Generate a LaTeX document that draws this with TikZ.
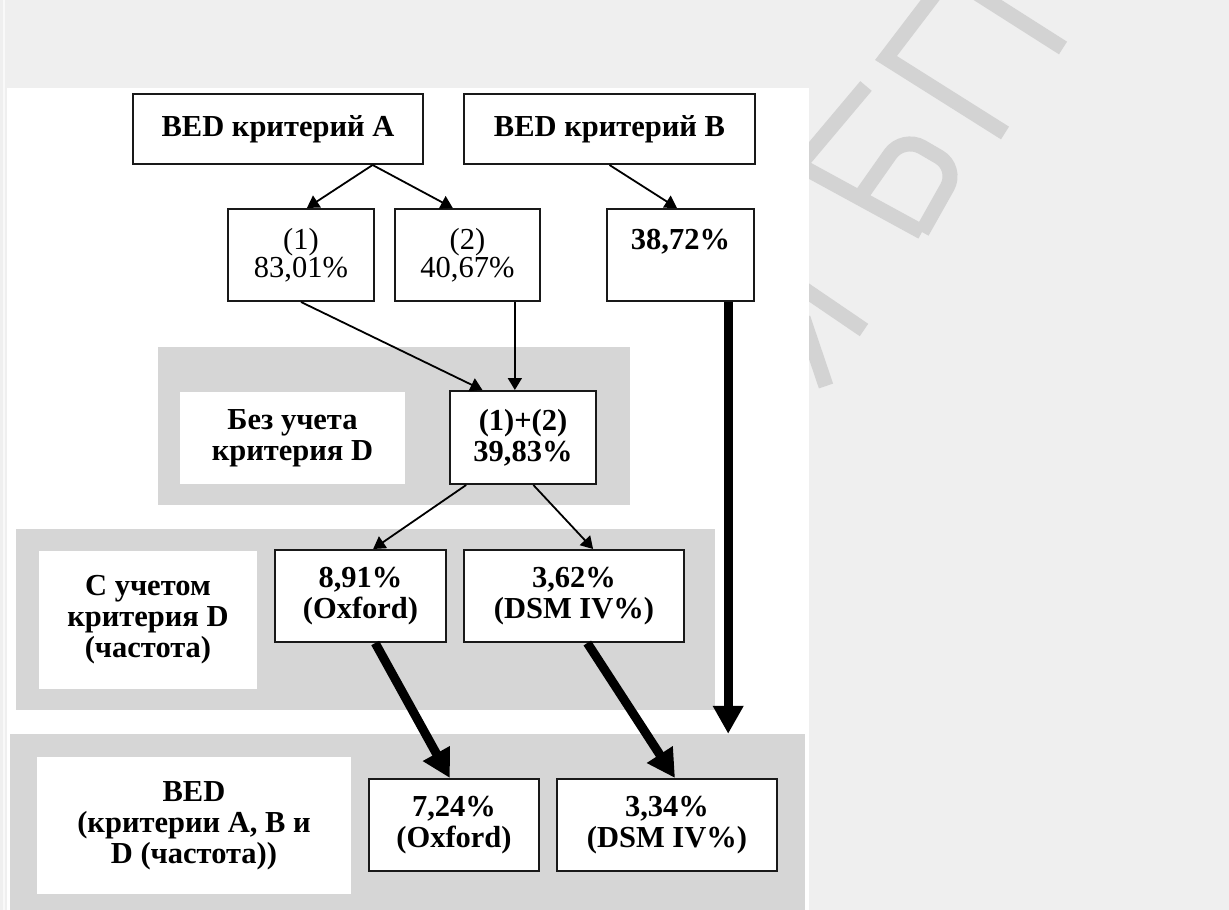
\documentclass[tikz,border=0pt]{standalone}
\usepackage{fontspec}
\setmainfont{Liberation Serif}
\usetikzlibrary{arrows.meta,calc}
\definecolor{bgc}{HTML}{EFEFEF}
\definecolor{bandc}{HTML}{D6D6D6}
\definecolor{wmc}{HTML}{D3D3D3}
\begin{document}
\begin{tikzpicture}[x=1pt,y=-1pt,
  box/.style={draw=black!90, line width=2pt, fill=white, inner sep=0pt, align=center, font=\fontsize{30.5}{28}\selectfont},
  bbox/.style={box, font=\fontsize{30.5}{31}\selectfont\bfseries},
  lab/.style={fill=white, inner sep=0pt, align=center, font=\fontsize{30.5}{31}\selectfont\bfseries},
  band/.style={fill=bandc, inner sep=0pt},
  tarr/.style={line width=1.8pt, -{Triangle[width=14pt,length=12pt]}},
  karr/.style={line width=9pt, -{Triangle[width=29pt,length=28pt]}},
  wm/.style={draw=wmc, line width=15pt}
]
\useasboundingbox (0,0) rectangle (1229,910);
\fill[bgc] (0,0) rectangle (1229,910);
\draw[white!60!bgc, line width=2pt] (4,0) -- (4,910);
% watermark strokes
\draw[wm] (790,160) -- (922,232);
\draw[wm] (797,168) -- (866,86);
\draw[wm, rounded corners=22pt] (858,200) -- (903,136) -- (958,168) -- (922,232);
\draw[wm] (934,-5) -- (886,58) -- (1005,133);
\draw[wm] (975,-8) -- (1063,48);
\draw[wm] (795,283) -- (864,330);
\draw[wm] (803,318) -- (826,386);
% white panel
\fill[white] (7,88) rectangle (809,910);
% bands
\node[band, minimum width=472pt, minimum height=158pt] (band1) at (394,426) {};
\node[band, minimum width=699pt, minimum height=181pt] (band2) at (365.5,619.5) {};
\node[band, minimum width=795pt, minimum height=176pt] (band3) at (407.5,822) {};
% top row
\node[bbox, minimum width=290pt, minimum height=70pt] (A) at (278,129) {BED критерий A};
\node[bbox, minimum width=291pt, minimum height=70pt] (B) at (609.5,129) {BED критерий B};
\node[box, minimum width=146pt, minimum height=92pt] (n1) at (301,255) {(1)\\83,01\%};
\node[box, minimum width=145pt, minimum height=92pt] (n2) at (467.5,255) {(2)\\40,67\%};
\node[bbox, minimum width=147pt, minimum height=92pt] (n3) at (680.5,255) {38,72\%\\\mbox{}};
% band 1
\node[lab, minimum width=225pt, minimum height=92pt] (l1) at (292.5,438) {Без учета\\критерия D};
\node[bbox, minimum width=146pt, minimum height=93pt] (n12) at (523,437.5) {(1)+(2)\\39,83\%};
% band 2
\node[lab, minimum width=218pt, minimum height=138pt] (l2) at (148,620) {С учетом\\критерия D\\(частота)};
\node[bbox, minimum width=171pt, minimum height=92pt] (n4) at (360.5,596) {8,91\%\\(Oxford)};
\node[bbox, minimum width=220pt, minimum height=92pt] (n5) at (574,596) {3,62\%\\(DSM IV\%)};
% band 3
\node[lab, minimum width=314pt, minimum height=137pt] (l3) at (194,825.5) {BED\\(критерии A, B и\\D (частота))};
\node[bbox, minimum width=170pt, minimum height=92pt] (n6) at (454,825) {7,24\%\\(Oxford)};
\node[bbox, minimum width=220pt, minimum height=92pt] (n7) at (667,825) {3,34\%\\(DSM IV\%)};
% connectors
\coordinate (a0) at ($(A.south west)!0.824!(A.south east)$);
\draw[tarr] (a0) -- ($(n1.north west)!0.54!(n1.north east)$);
\draw[tarr] (a0) -- ($(n2.north west)!0.40!(n2.north east)$);
\draw[tarr] (B.south) -- ($(n3.north west)!0.476!(n3.north east)$);
\draw[tarr] (n1.south) -- ($(n12.north west)!0.226!(n12.north east)$);
\coordinate (c2) at ($(n12.north west)!0.445!(n12.north east)$);
\draw[tarr] (c2 |- n2.south) -- (c2);
\coordinate (s3) at ($(n3.south west)!0.82!(n3.south east)$);
\draw[karr] (s3) -- (s3 |- band3.north);
\draw[tarr] ($(n12.south west)!0.116!(n12.south east)$) -- ($(n4.north west)!0.573!(n4.north east)$);
\draw[tarr] ($(n12.south west)!0.57!(n12.south east)$) -- ($(n5.north west)!0.586!(n5.north east)$);
\draw[karr] ($(n4.south west)!0.585!(n4.south east)$) -- ($(n6.north west)!0.476!(n6.north east)$);
\draw[karr] ($(n5.south west)!0.56!(n5.south east)$) -- ($(n7.north west)!0.536!(n7.north east)$);
\end{tikzpicture}
\end{document}
